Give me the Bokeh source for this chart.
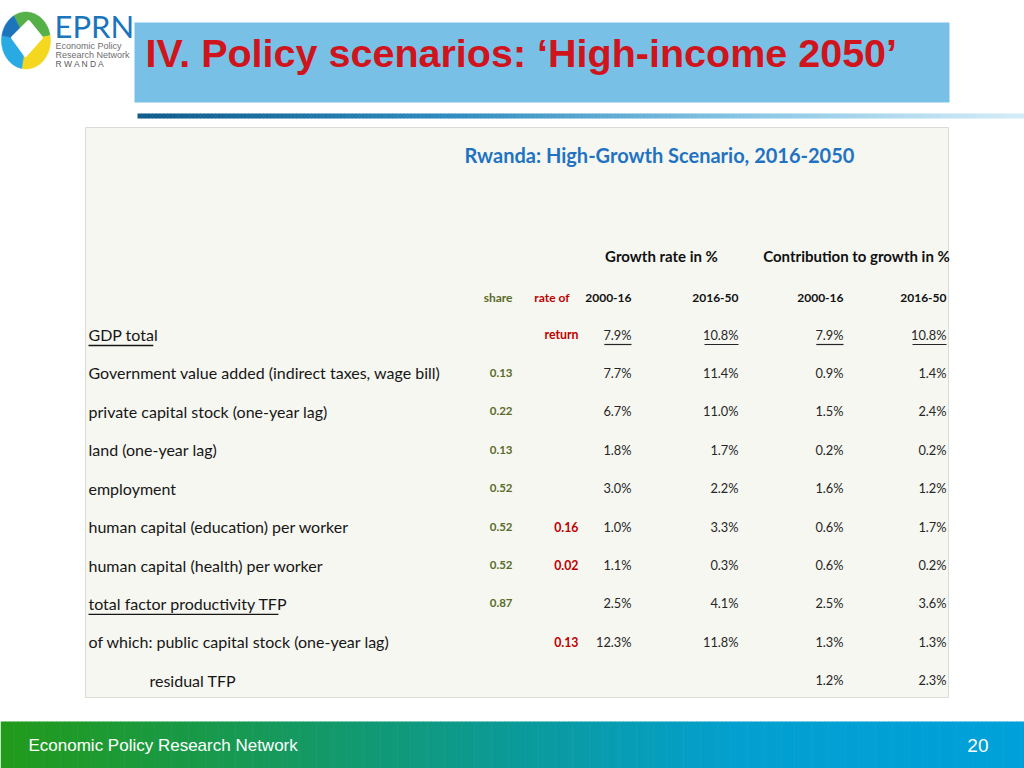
import numpy as np
from bokeh.plotting import figure
from bokeh.models import Range1d, ColumnDataSource
from bokeh.embed import file_html
from bokeh.resources import INLINE
from bokeh.core.properties import value

# ---------------- data ----------------
slide_title = "IV. Policy scenarios: \u2018High-income 2050\u2019"
table_title = "Rwanda: High-Growth Scenario, 2016-2050"
group_headers = ["Growth rate in %", "Contribution to growth in %"]
column_headers = ["share", "rate of", "2000-16", "2016-50", "2000-16", "2016-50"]
row_labels = [
    "GDP total",
    "Government value added (indirect taxes, wage bill)",
    "private capital stock (one-year lag)",
    "land (one-year lag)",
    "employment",
    "human capital (education) per worker",
    "human capital (health) per worker",
    "total factor productivity TFP",
    "of which: public capital stock (one-year lag)",
    "residual TFP",
]
share = ["", "0.13", "0.22", "0.13", "0.52", "0.52", "0.52", "0.87", "", ""]
rate_of_return = ["return", "", "", "", "", "0.16", "0.02", "", "0.13", ""]
growth_2000_16 = [7.9, 7.7, 6.7, 1.8, 3.0, 1.0, 1.1, 2.5, 12.3, None]
growth_2016_50 = [10.8, 11.4, 11.0, 1.7, 2.2, 3.3, 0.3, 4.1, 11.8, None]
contribution_2000_16 = [7.9, 0.9, 1.5, 0.2, 1.6, 0.6, 0.6, 2.5, 1.3, 1.2]
contribution_2016_50 = [10.8, 1.4, 2.4, 0.2, 1.2, 1.7, 0.2, 3.6, 1.3, 2.3]
footer_text = "Economic Policy Research Network"
page_number = "20"
logo_name = "EPRN"
logo_lines = ["Economic Policy", "Research Network", "R W A N D A"]

# ---------------- styles / layout ----------------
TFONT = "Lato"
SANS = "Liberation Sans"
W, H = 1024, 768

p = figure(width=W, height=H, x_range=Range1d(0, W), y_range=Range1d(H, 0),
           output_backend="svg", toolbar_location=None, min_border=0,
           x_axis_type=None, y_axis_type=None)
p.grid.visible = False
p.outline_line_color = None
p.background_fill_color = "white"
p.border_fill_color = "white"


def hex_rgb(h):
    h = h.lstrip("#")
    return np.array([int(h[i:i + 2], 16) for i in (0, 2, 4)], dtype=float)


def gradient_band(x0, x1, y0, y1, stops, n=240):
    edges = np.linspace(x0, x1, n + 1)
    mids = (edges[:-1] + edges[1:]) / 2
    t = (mids - x0) / (x1 - x0)
    pos = [s[0] for s in stops]
    cols = np.array([hex_rgb(s[1]) for s in stops])
    rgb = np.stack([np.interp(t, pos, cols[:, k]) for k in range(3)], axis=1)
    colors = ["#%02x%02x%02x" % tuple(int(round(c)) for c in row) for row in rgb]
    p.quad(left=edges[:-1], right=edges[1:] + 0.6, top=y0, bottom=y1,
           fill_color=colors, line_color=None)


# ---- logo ----
cx, cy, ax_, by_ = 25.5, 40.0, 24.5, 28.5
segments = [(-120, -10, "#55b047"), (-10, 100, "#f4d820"), (100, 190, "#2aaae2"), (190, 240, "#1c75bc")]
for a0, a1, col in segments:
    th = np.radians(np.linspace(a0, a1, 40))
    xs = [cx] + list(cx + ax_ * np.cos(th))
    ys = [cy] + list(cy + by_ * np.sin(th))
    p.patch(xs, ys, fill_color=col, line_color=col, line_width=0.5)
p.patch([28, 41, 25, 12], [21, 37, 55, 37], fill_color="white", line_color="white",
        line_width=3, line_join="round")
p.text(x=[54], y=[25], text=[logo_name], text_font=value(TFONT), text_font_size="31px",
       text_color="#1b75bc", text_baseline="middle")
p.text(x=[55, 55], y=[45, 54], text=logo_lines[:2], text_font=value(SANS), text_font_size="9px",
       text_color="#6d6e71", text_baseline="middle")
p.text(x=[55], y=[63.5], text=[logo_lines[2]], text_font=value(SANS), text_font_size="8.5px",
       text_color="#58595b", text_baseline="middle")

# ---- title box ----
p.quad(left=134, right=949, top=22, bottom=102, fill_color="#79c0e7", line_color=None)
p.text(x=[145], y=[52], text=[slide_title], text_font=value(SANS), text_font_style="bold",
       text_font_size="39.5px", text_color="#cf141c", text_baseline="middle")
gradient_band(137, 1024, 113, 118, [(0, "#0f5c8c"), (0.35, "#2f8cbf"), (0.7, "#8cc8e6"), (1, "#d6edf8")])

# ---- table panel ----
p.quad(left=85, right=948, top=127, bottom=697, fill_color="#f6f7f1", line_color="#dcdcd6", line_width=1)

p.text(x=[464], y=[154], text=[table_title], text_font=value(TFONT), text_font_style="bold",
       text_font_size="20px", text_color="#1f73c2", text_baseline="middle")

group_centers = [661, 856]
p.text(x=group_centers, y=[255, 255], text=group_headers, text_font=value(TFONT),
       text_font_style="bold", text_font_size="15px", text_color="#111111",
       text_align="center", text_baseline="middle")

header_right = [512, 569, 631, 738, 843, 946]
header_colors = ["#5b6b2a", "#c00000", "#111111", "#111111", "#111111", "#111111"]
p.text(x=header_right, y=[297] * 6, text=column_headers, text_font=value(TFONT),
       text_font_style="bold", text_font_size="12px", text_color=header_colors,
       text_align="right", text_baseline="middle")

row_y0, row_step = 334.0, 38.42
n_rows = len(row_labels)
row_y = [row_y0 + i * row_step for i in range(n_rows)]
indent = [0] * (n_rows - 1) + [1]
label_x = [88 + 61 * k for k in indent]

p.text(x=label_x, y=row_y, text=row_labels, text_font=value(TFONT), text_font_size="16px",
       text_color="#161616", text_baseline="middle")

# underlined labels
for i in (0, 7):
    wdt = len(row_labels[i]) * (7.2 if i == 0 else 6.55)
    p.segment(x0=label_x[i], x1=label_x[i] + wdt, y0=row_y[i] + 11, y1=row_y[i] + 11,
              line_color="#161616", line_width=1.3)

p.text(x=[512] * n_rows, y=row_y, text=share, text_font=value(TFONT), text_font_style="bold",
       text_font_size="11.5px", text_color="#5b6b2a", text_align="right", text_baseline="middle")
p.text(x=[578] * n_rows, y=row_y, text=rate_of_return, text_font=value(TFONT), text_font_style="bold",
       text_font_size="12.3px", text_color="#c00000", text_align="right", text_baseline="middle")

value_cols = [growth_2000_16, growth_2016_50, contribution_2000_16, contribution_2016_50]
value_right = [631, 738, 843, 946]
for col, xr in zip(value_cols, value_right):
    txt = ["" if v is None else f"{v:.1f}%" for v in col]
    src = ColumnDataSource(dict(x=[xr] * n_rows, y=row_y, t=txt))
    p.text(x="x", y="y", text="t", source=src, text_font=value(TFONT), text_font_size="12.8px",
           text_color="#262626", text_align="right", text_baseline="middle")
    # GDP total row underline
    wdt = len(txt[0]) * 6.8
    p.segment(x0=xr - wdt, x1=xr, y0=row_y[0] + 10, y1=row_y[0] + 10,
              line_color="#262626", line_width=1.2)

# ---- footer ----
gradient_band(0, 1024, 721, 768, [(0, "#229a19"), (0.27, "#15995c"), (0.5, "#0b9a98"),
                                  (0.72, "#03a0d0"), (1, "#00a0da")])
p.text(x=[28], y=[745], text=[footer_text], text_font=value(SANS), text_font_size="17px",
       text_color="white", text_baseline="middle")
p.text(x=[988], y=[745], text=[page_number], text_font=value(SANS), text_font_size="19px",
       text_color="white", text_align="right", text_baseline="middle")

open("out.html", "w").write(file_html(p, INLINE))
